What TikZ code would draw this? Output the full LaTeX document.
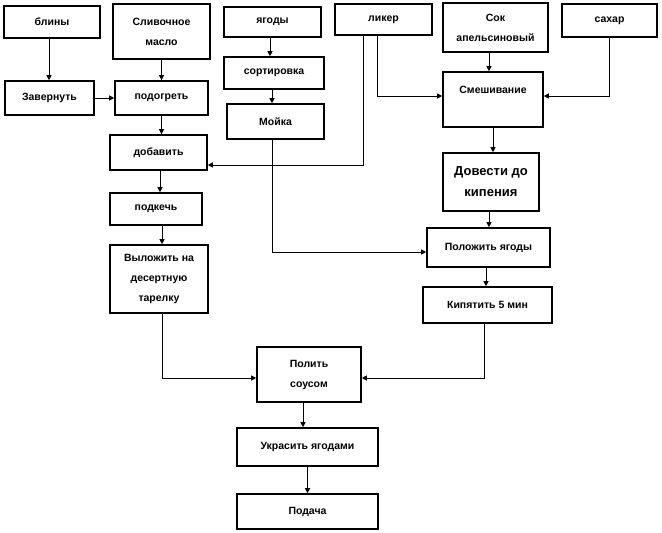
\documentclass[tikz,border=0pt]{standalone}
\usepackage{fontspec}
\setmainfont{Liberation Sans}
\usetikzlibrary{arrows.meta}
\tikzset{
  box/.style={draw, line width=1.6pt, inner sep=0pt, align=center,
    font=\bfseries\fontsize{10.5}{20}\selectfont},
  bigtext/.style={font=\bfseries\fontsize{13}{21}\selectfont},
  conn/.style={line width=0.8pt, -{Triangle[length=5pt,width=5pt]}}
}
\begin{document}
\begin{tikzpicture}[x=1pt,y=-1pt]
\useasboundingbox (0,0) rectangle (662,533);
\node[box, minimum width=96pt, minimum height=32pt] (bliny) at (52,22) {блины};
\node[box, minimum width=97pt, minimum height=55pt] (maslo) at (161.5,31.5) {Сливочное\\масло};
\node[box, minimum width=97pt, minimum height=30pt] (yagody) at (272.5,22) {ягоды};
\node[box, minimum width=89pt, minimum height=34pt] (zavern) at (49.5,98) {Завернуть};
\node[box, minimum width=93pt, minimum height=34pt] (podogr) at (161.5,98) {подогреть};
\node[box, minimum width=100pt, minimum height=32pt] (sort) at (274,73) {сортировка};
\node[box, minimum width=97pt, minimum height=35pt] (moika) at (275.5,121.5) {Мойка};
\node[box, minimum width=97pt, minimum height=35pt] (dobav) at (158.5,152.5) {добавить};
\node[box, minimum width=97pt, minimum height=31pt] (liker) at (383.5,19.5) {ликер};
\node[box, minimum width=105pt, minimum height=49pt] (sok) at (495.5,27.5) {Сок\\апельсиновый};
\node[box, minimum width=95pt, minimum height=33pt] (sahar) at (609.5,20.5) {сахар};
\node[box, minimum width=100pt, minimum height=55pt] (smesh) at (493,99.5) {Смешивание\\\mbox{}};
\node[box, bigtext, minimum width=96pt, minimum height=58pt] (dovesti) at (491,182) {Довести до\\кипения};
\node[box, minimum width=92pt, minimum height=32pt] (podzhech) at (156,209) {подкечь};
\node[box, minimum width=98pt, minimum height=68pt] (vylozh) at (159,279) {Выложить на\\десертную\\тарелку};
\node[box, minimum width=123pt, minimum height=39pt] (polozh) at (488.5,247.5) {Положить ягоды};
\node[box, minimum width=129pt, minimum height=36pt] (kipyat) at (487.5,305) {Кипятить 5 мин};
\node[box, minimum width=104pt, minimum height=55pt] (polit) at (309,374.5) {Полить\\соусом};
\node[box, minimum width=141pt, minimum height=38pt] (ukras) at (307.5,447) {Украсить ягодами};
\node[box, minimum width=141pt, minimum height=35pt] (podacha) at (307.5,511.5) {Подача};

\draw[conn] ([xshift=-3pt]bliny.south) -- ([xshift=-3pt]bliny.south |- zavern.north);
\draw[conn] (maslo.south) -- (maslo.south |- podogr.north);
\draw[conn] ([xshift=-2.5pt]yagody.south) -- ([xshift=-2.5pt]yagody.south |- sort.north);
\draw[conn] ([xshift=-2pt]sort.south) -- ([xshift=-2pt]sort.south |- moika.north);
\draw[conn] (zavern.east) -- (podogr.west);
\draw[conn] (podogr.south) -- (podogr.south |- dobav.north);
\draw[conn] ([xshift=-20.5pt]liker.south) |- ([yshift=-12.5pt]dobav.east);
\draw[conn] ([xshift=-6.5pt]liker.south) |- ([yshift=3.5pt]smesh.west);
\draw[conn] ([xshift=-6.5pt]sok.south) -- ([xshift=-6.5pt]sok.south |- smesh.north);
\draw[conn] (sahar.south) |- ([yshift=3.5pt]smesh.east);
\draw[conn] (smesh.south) -- (smesh.south |- dovesti.north);
\draw[conn] ([xshift=-3.5pt]moika.south) |- ([yshift=-4.5pt]polozh.west);
\draw[conn] ([xshift=-2pt]dovesti.south) -- ([xshift=-2pt]dovesti.south |- polozh.north);
\draw[conn] ([xshift=1.5pt]dobav.south) -- ([xshift=1.5pt]dobav.south |- podzhech.north);
\draw[conn] ([xshift=6pt]podzhech.south) -- ([xshift=6pt]podzhech.south |- vylozh.north);
\draw[conn] ([xshift=-2.5pt]polozh.south) -- ([xshift=-2.5pt]polozh.south |- kipyat.north);
\draw[conn] ([xshift=3pt]vylozh.south) |- ([yshift=-3.5pt]polit.west);
\draw[conn] ([xshift=-3.5pt]kipyat.south) |- ([yshift=-3.5pt]polit.east);
\draw[conn] ([xshift=-6pt]polit.south) -- ([xshift=-6pt]polit.south |- ukras.north);
\draw[conn] (ukras.south) -- (ukras.south |- podacha.north);
\end{tikzpicture}
\end{document}
